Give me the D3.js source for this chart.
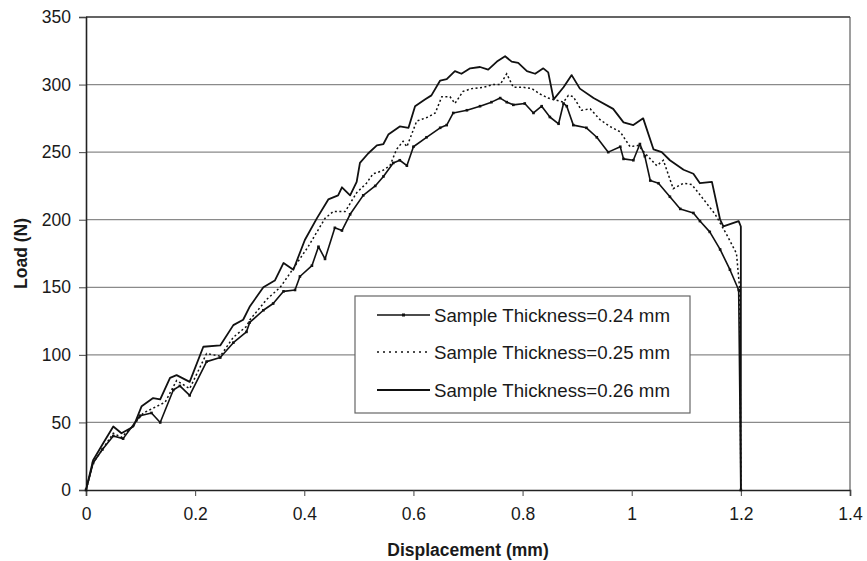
<!DOCTYPE html>
<html>
<head>
<meta charset="utf-8">
<script src="https://cdn.jsdelivr.net/npm/d3@7"></script>
<style>
  html, body { margin: 0; padding: 0; background: #fff; }
  svg { display: block; }
  text { font-family: "Liberation Sans", Arial, sans-serif; fill: #1a1a1a; }
</style>
</head>
<body>
<svg id="chart" width="867" height="561"></svg>
<script>
// ---- Data ----
const xTicks = [0, 0.2, 0.4, 0.6, 0.8, 1, 1.2, 1.4];
const yTicks = [0, 50, 100, 150, 200, 250, 300, 350];
const seriesNames = ["Sample Thickness=0.24 mm", "Sample Thickness=0.25 mm", "Sample Thickness=0.26 mm"];

const disp024 = [0,0.013,0.03,0.05,0.068,0.099,0.12,0.136,0.16,0.172,0.19,0.221,0.246,0.27,0.294,0.3,0.325,0.343,0.362,0.383,0.392,0.414,0.426,0.438,0.456,0.469,0.484,0.508,0.53,0.545,0.563,0.575,0.588,0.6,0.624,0.649,0.661,0.673,0.698,0.722,0.743,0.759,0.771,0.783,0.804,0.82,0.835,0.85,0.866,0.875,0.881,0.893,0.917,0.936,0.957,0.979,0.985,1.003,1.015,1.024,1.034,1.049,1.07,1.089,1.113,1.125,1.143,1.162,1.18,1.196,1.2];
const load024 = [0,20,30,40,38,55,57,50,74,77,70,95,98,109,117,124,133,138,147,148,158,166,180,171,194,192,204,218,225,232,242,244,240,254,261,268,270,279,281,284,287,290,287,285,286,279,284,276,271,286,284,270,268,261,250,254,245,244,256,247,229,227,217,208,205,199,191,178,163,148,0];

const disp025 = [0,0.013,0.03,0.05,0.065,0.085,0.105,0.13,0.145,0.166,0.19,0.221,0.246,0.27,0.294,0.3005,0.331,0.356,0.38,0.407,0.438,0.453,0.475,0.496,0.514,0.526,0.542,0.557,0.569,0.581,0.588,0.606,0.627,0.64,0.652,0.667,0.676,0.691,0.707,0.728,0.746,0.759,0.771,0.783,0.801,0.817,0.832,0.847,0.856,0.875,0.884,0.893,0.908,0.924,0.942,0.96,0.979,0.997,1.012,1.027,1.046,1.058,1.076,1.095,1.11,1.122,1.153,1.174,1.192,1.198,1.2];
const load025 = [0,20,30,42,39,47,57,62,65,81,75,101,99,113,121,126,141,150,164,180,201,206,206,220,227,234,236,240,252,258,254,273,276,279,291,291,286,295,297,298,300,300,308,298,298,297,293,290,289,287,292,291,281,282,274,269,265,254,255,248,240,244,223,227,226,220,204,189,175,148,0];

const disp026 = [0,0.013,0.032,0.05,0.065,0.087,0.102,0.123,0.136,0.154,0.166,0.19,0.215,0.246,0.27,0.288,0.3005,0.325,0.346,0.362,0.38,0.401,0.423,0.444,0.462,0.469,0.484,0.496,0.502,0.517,0.533,0.545,0.554,0.575,0.591,0.603,0.621,0.633,0.649,0.661,0.676,0.688,0.704,0.722,0.737,0.753,0.768,0.78,0.792,0.808,0.823,0.838,0.847,0.857,0.875,0.89,0.905,0.93,0.966,0.985,1.003,1.021,1.04,1.055,1.07,1.095,1.113,1.125,1.147,1.162,1.168,1.196,1.2,1.2];
const load026 = [0,22,35,47,42,47,62,68,67,83,85,80,106,107,122,126,136,150,155,168,163,185,201,215,218,224,218,228,242,249,255,256,263,269,268,284,289,292,303,304,310,308,312,313,311,317,321,317,316,310,308,312,309,289,298,307,297,290,282,272,270,275,252,250,244,237,234,227,228,200,195,199,195,0];

// ---- Layout ----
const svg = d3.select("#chart");
const L = 86, R = 850, T = 17, B = 490;
const x = d3.scaleLinear().domain([0, 1.4]).range([L, R]);
const y = d3.scaleLinear().domain([0, 350]).range([B, T]);

// gridlines
svg.append("g").selectAll("line").data(yTicks.filter(d => d > 0)).join("line")
  .attr("x1", L).attr("x2", R).attr("y1", d => y(d)).attr("y2", d => y(d))
  .attr("stroke", "#8a8a8a").attr("stroke-width", 1.2);

// borders
svg.append("line").attr("x1", R).attr("x2", R).attr("y1", T).attr("y2", B)
  .attr("stroke", "#6a6a6a").attr("stroke-width", 1.3);
svg.append("line").attr("x1", L).attr("x2", R).attr("y1", T).attr("y2", T)
  .attr("stroke", "#444").attr("stroke-width", 1.3);

// axes
const yAxis = d3.axisLeft(y).tickValues(yTicks).tickSize(7).tickPadding(8).tickFormat(d3.format("d"));
const gy = svg.append("g").attr("transform", `translate(${L},0)`).call(yAxis);
gy.select(".domain").attr("stroke", "#222").attr("stroke-width", 1.6);
gy.selectAll(".tick line").attr("stroke", "#444");
gy.selectAll("text").attr("font-size", 17.5).attr("fill", "#1a1a1a")
  .style("font-family", "'Liberation Sans', Arial, sans-serif");

const xAxis = d3.axisBottom(x).tickValues(xTicks).tickSize(6).tickPadding(12).tickFormat(d => d3.format("")(d));
const gx = svg.append("g").attr("transform", `translate(0,${B})`).call(xAxis);
gx.select(".domain").attr("stroke", "#222").attr("stroke-width", 1.6);
gx.selectAll(".tick line").attr("stroke", "#444");
gx.selectAll("text").attr("font-size", 17.5).attr("fill", "#1a1a1a")
  .style("font-family", "'Liberation Sans', Arial, sans-serif");

// axis titles
svg.append("text").attr("x", (L + R) / 2).attr("y", 556).attr("text-anchor", "middle")
  .attr("font-size", 17.5).attr("font-weight", "bold").text("Displacement (mm)");
svg.append("text").attr("transform", `translate(27,${(T + B) / 2}) rotate(-90)`)
  .attr("text-anchor", "middle").attr("font-size", 17.5).attr("font-weight", "bold").text("Load (N)");

// series
const line = d3.line().x(d => x(d[0])).y(d => y(d[1]));
const s024 = d3.zip(disp024, load024);
const s025 = d3.zip(disp025, load025);
const s026 = d3.zip(disp026, load026);

svg.append("path").datum(s026).attr("d", line).attr("fill", "none")
  .attr("stroke", "#111").attr("stroke-width", 1.8).attr("stroke-linejoin", "round");
svg.append("path").datum(s025).attr("d", line).attr("fill", "none")
  .attr("stroke", "#111").attr("stroke-width", 1.5).attr("stroke-dasharray", "2,2.5");
svg.append("path").datum(s024).attr("d", line).attr("fill", "none")
  .attr("stroke", "#111").attr("stroke-width", 1.6).attr("stroke-linejoin", "round");
svg.append("g").selectAll("rect").data(s024).join("rect")
  .attr("x", d => x(d[0]) - 1.3).attr("y", d => y(d[1]) - 1.3)
  .attr("width", 2.6).attr("height", 2.6).attr("fill", "#111");

// legend
const lg = svg.append("g");
lg.append("rect").attr("x", 355).attr("y", 296).attr("width", 335).attr("height", 117)
  .attr("fill", "#fff").attr("stroke", "#666").attr("stroke-width", 1.2);
const rows = [315, 352, 390];
seriesNames.forEach((name, i) => {
  const ly = rows[i];
  const ln = lg.append("line").attr("x1", 377).attr("x2", 430).attr("y1", ly).attr("y2", ly)
    .attr("stroke", "#111").attr("stroke-width", i === 2 ? 1.8 : 1.5);
  if (i === 1) ln.attr("stroke-dasharray", "2,4");
  if (i === 0) lg.append("rect").attr("x", 402).attr("y", ly - 1.5).attr("width", 3).attr("height", 3).attr("fill", "#111");
  lg.append("text").attr("x", 434).attr("y", ly).attr("dy", "0.35em")
    .attr("font-size", 18.7).text(name);
});
</script>
</body>
</html>
